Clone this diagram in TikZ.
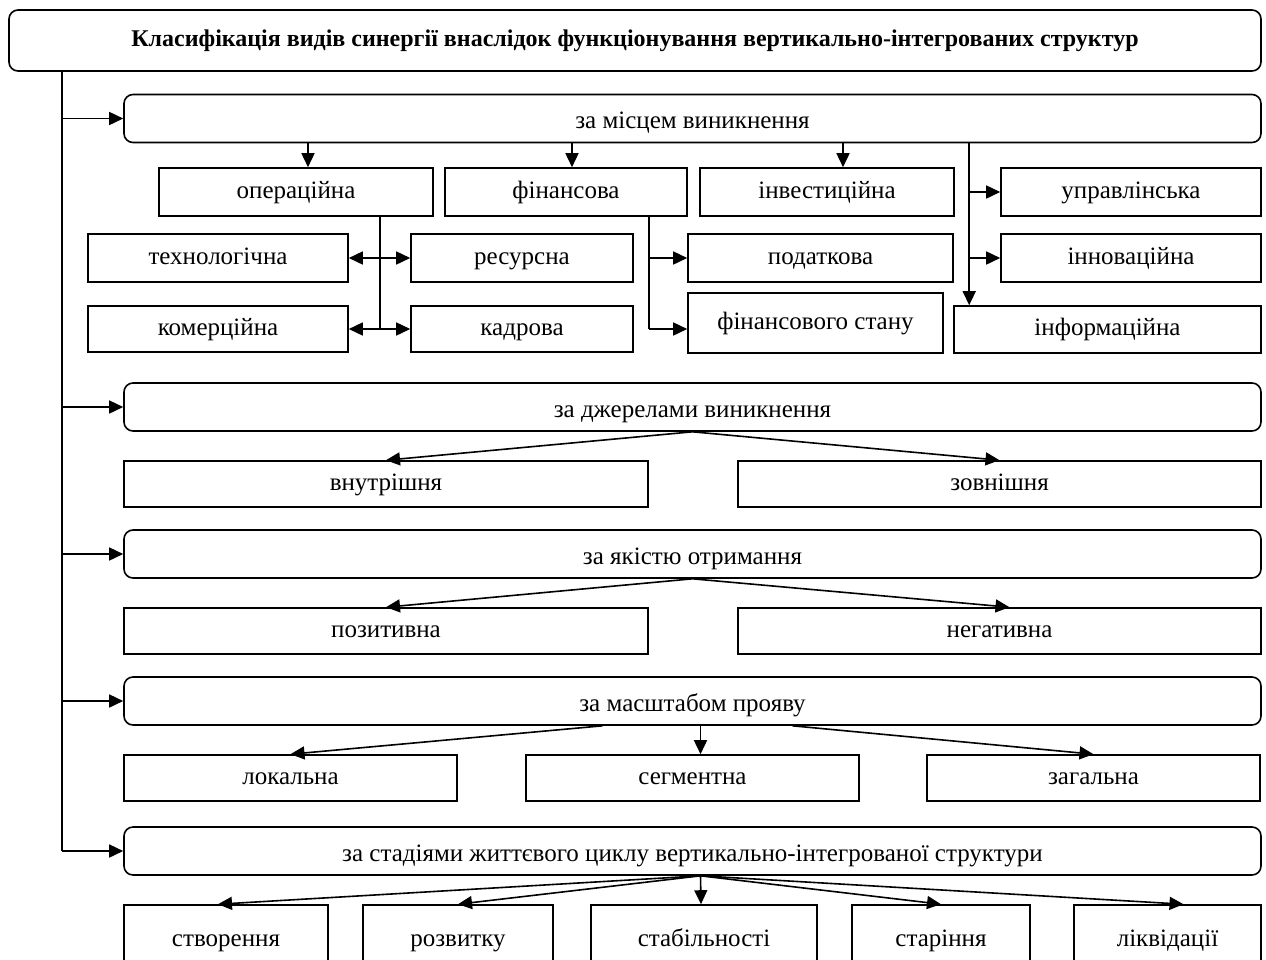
\documentclass[tikz,border=0pt]{standalone}
\usepackage{fontspec}
\setmainfont{Liberation Serif}
\usetikzlibrary{arrows.meta}

\begin{document}
\begin{tikzpicture}[x=1pt,y=-1pt,line width=1.6pt,
    head/.style={rectangle,draw,rounded corners=9pt,
      font=\fontsize{24}{28}\selectfont\bfseries},
    catbox/.style={rectangle,draw,rounded corners=9pt,minimum width=1137pt,
      minimum height=48pt,text height=20pt,text depth=0pt,
      font=\fontsize{25}{29}\selectfont},
    kindbox/.style={rectangle,draw,text height=16pt,text depth=4pt,
      font=\fontsize{25}{29}\selectfont},
    arr/.style={-{Triangle[length=14pt,width=13pt]}},
    darr/.style={{Triangle[length=14pt,width=13pt]}-{Triangle[length=14pt,width=13pt]}}]
      \useasboundingbox (0,0) rectangle (1266,959);

      \node[head,minimum width=1252pt,minimum height=61pt] (title) at (635,40.5)
           {Класифікація видів синергії внаслідок функціонування вертикально-інтегрованих структур};

      % categories
      \node[catbox] (place) at (692.5,118.5) {за місцем виникнення};
      \node[catbox] (source) at (692.5,407) {за джерелами виникнення};
      \node[catbox] (quality) at (692.5,554) {за якістю отримання};
      \node[catbox] (scale) at (692.5,701) {за масштабом прояву};
      \node[catbox] (stage) at (692.5,851)
           {за стадіями життєвого циклу вертикально-інтегрованої структури};

      \coordinate (trunk) at ([xshift=54pt]title.south west);
      \draw (trunk) -- (trunk |- stage.west);
      \draw[arr] (trunk |- place.west) -- (place.west);
      \draw[arr] (trunk |- source.west) -- (source.west);
      \draw[arr] (trunk |- quality.west) -- (quality.west);
      \draw[arr] (trunk |- scale.west) -- (scale.west);
      \draw[arr] (trunk |- stage.west) -- (stage.west);

      % за місцем виникнення
      \node[kindbox,minimum width=274pt,minimum height=48pt] (oper) at (296,192) {операційна};
      \node[kindbox,minimum width=242pt,minimum height=48pt] (fin) at (566,192) {фінансова};
      \node[kindbox,minimum width=254pt,minimum height=48pt] (inv) at (827,192) {інвестиційна};
      \node[kindbox,minimum width=260pt,minimum height=48pt] (mgmt) at (1131,192) {управлінська};
      \node[kindbox,minimum width=260pt,minimum height=48pt] (tech) at (218,258) {технологічна};
      \node[kindbox,minimum width=222pt,minimum height=48pt] (res) at (522,258) {ресурсна};
      \node[kindbox,minimum width=265pt,minimum height=48pt] (tax) at (820.5,258) {податкова};
      \node[kindbox,minimum width=260pt,minimum height=48pt] (innov) at (1131,258) {інноваційна};
      \node[kindbox,minimum width=260pt,minimum height=46pt] (comm) at (218,329) {комерційна};
      \node[kindbox,minimum width=222pt,minimum height=46pt] (staff) at (522,329) {кадрова};
      \node[kindbox,minimum width=255pt,minimum height=60pt] (finstate) at (815.5,323)
           {фінансового стану};
      \node[kindbox,minimum width=307pt,minimum height=47pt] (info) at (1107.5,329.5) {інформаційна};

      \draw[arr] ([xshift=12pt]oper.north |- place.south) -- ([xshift=12pt]oper.north);
      \draw[arr] ([xshift=6pt]fin.north |- place.south) -- ([xshift=6pt]fin.north);
      \draw[arr] ([xshift=16pt]inv.north |- place.south) -- ([xshift=16pt]inv.north);

      \coordinate (operj) at ([xshift=-54pt]oper.south east);
      \draw (operj) -- (operj |- comm.east);
      \draw[darr] (tech.east) -- (res.west);
      \draw[darr] (comm.east) -- (staff.west);

      \coordinate (finj) at ([xshift=-39pt]fin.south east);
      \draw (finj) -- (finj |- comm.east);
      \draw[arr] (finj |- tax.west) -- (tax.west);
      \draw[arr] (finj |- comm.east) -- (comm.east -| finstate.west);

      \coordinate (mgmtj) at ([xshift=16pt]info.north west |- place.south);
      \draw[arr] (mgmtj) -- ([xshift=16pt]info.north west);
      \draw[arr] (mgmtj |- mgmt.west) -- (mgmt.west);
      \draw[arr] (mgmtj |- innov.west) -- (innov.west);

      % за джерелами виникнення
      \node[kindbox,minimum width=524pt,minimum height=46pt] (inner) at (386,484) {внутрішня};
      \node[kindbox,minimum width=523pt,minimum height=46pt] (outer) at (999.5,484) {зовнішня};
      \draw[arr] (source.south) -- (inner.north);
      \draw[arr] (source.south) -- (outer.north);

      % за якістю отримання
      \node[kindbox,minimum width=524pt,minimum height=46pt] (pos) at (386,631) {позитивна};
      \node[kindbox,minimum width=523pt,minimum height=46pt] (neg) at (999.5,631) {негативна};
      \draw[arr] (quality.south) -- (pos.north);
      \draw[arr] (quality.south) -- ([xshift=10pt]neg.north);

      % за масштабом прояву
      \node[kindbox,minimum width=333pt,minimum height=46pt] (local) at (290.5,778) {локальна};
      \node[kindbox,minimum width=333pt,minimum height=46pt] (segm) at (692.5,778) {сегментна};
      \node[kindbox,minimum width=333pt,minimum height=46pt] (total) at (1093.5,778) {загальна};
      \draw[arr] ([xshift=-90pt]scale.south) -- (local.north);
      \draw[arr] ([xshift=8pt]scale.south) -- ([xshift=8pt]segm.north);
      \draw[arr] ([xshift=100pt]scale.south) -- (total.north);

      % за стадіями життєвого циклу
      \node[kindbox,minimum width=204pt,minimum height=70pt] (create) at (226,940) {створення};
      \node[kindbox,minimum width=190pt,minimum height=70pt] (grow) at (458,940) {розвитку};
      \node[kindbox,minimum width=226pt,minimum height=70pt] (stable) at (704,940) {стабільності};
      \node[kindbox,minimum width=178pt,minimum height=70pt] (aging) at (941,940) {старіння};
      \node[kindbox,minimum width=187pt,minimum height=70pt] (liquid) at (1167.5,940) {ліквідації};
      \coordinate (stagej) at ([xshift=8pt]stage.south);
      \draw[arr] (stagej) -- ([xshift=-8pt]create.north);
      \draw[arr] (stagej) -- (grow.north);
      \draw[arr] (stagej) -- ([xshift=-3pt]stable.north);
      \draw[arr] (stagej) -- (aging.north);
      \draw[arr] (stagej) -- ([xshift=16pt]liquid.north);

    \end{tikzpicture}
\end{document}
